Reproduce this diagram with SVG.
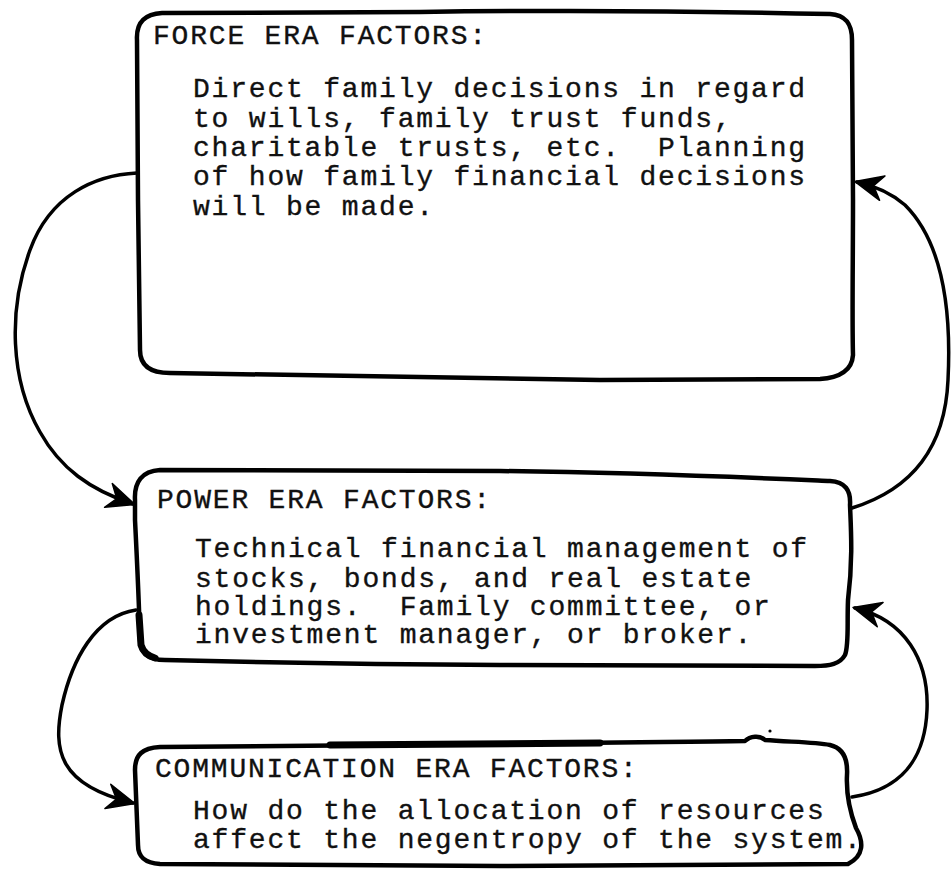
<svg xmlns="http://www.w3.org/2000/svg" width="952" height="869" viewBox="0 0 952 869">
  <style>
    .box { fill: none; stroke: #000; stroke-width: 4.5; stroke-linejoin: round; stroke-linecap: round; }
    .heavy { fill: none; stroke: #000; stroke-width: 7; stroke-linecap: round; }
    .link { fill: none; stroke: #000; stroke-width: 3.5; stroke-linecap: round; marker-end: url(#barb); }
    text { font-family: "Liberation Mono", "Courier New", monospace; font-size: 28px; letter-spacing: 1.8px; fill: #111; stroke: #111; stroke-width: 0.35; }
  </style>
  <defs>
    <marker id="barb" markerUnits="userSpaceOnUse" markerWidth="40" markerHeight="40" viewBox="-30 -20 40 40" refX="0" refY="0" orient="auto">
      <path d="M2,0 L-26,-13 L-17,0 L-26,12 Z" fill="#000" stroke="#000" stroke-width="1.5" stroke-linejoin="round"/>
    </marker>
  </defs>
  <rect width="952" height="869" fill="#fff"/>

  <!-- connectors -->
  <g id="connectors">
    <path class="link" d="M137,173 C95,175 50,195 30,250 C8,310 10,380 40,432 C60,468 90,490 133,504"/>
    <path class="link" d="M136,610 C95,616 72,660 62,705 C53,750 58,785 133,803"/>
    <path class="link" d="M852,508 C910,490 945,450 948,380 C952,300 940,240 905,205 C890,192 875,186 857,182"/>
    <path class="link" d="M852,797 C900,790 925,760 927,710 C929,660 905,620 855,608"/>
  </g>

  <!-- force era -->
  <g id="force-era">
    <path class="box" d="M137,40 C136,22 145,14 162,13 L420,12 C560,10 700,11 830,14 C846,15 852,24 852,40 L853,200 C853,260 852,320 853,355 C852,370 840,378 820,379 L600,380 C450,378 300,376 170,373 C150,373 140,365 140,350 L138,200 Z"/>
    <text x="153" y="44">FORCE ERA FACTORS:</text>
    <text x="193" y="97">Direct family decisions in regard</text>
    <text x="193" y="127">to wills, family trust funds,</text>
    <text x="193" y="156" xml:space="preserve">charitable trusts, etc.  Planning</text>
    <text x="193" y="185">of how family financial decisions</text>
    <text x="193" y="215">will be made.</text>
  </g>

  <!-- power era -->
  <g id="power-era">
    <path class="box" d="M135,500 C134,482 142,471 160,470 L500,471 C650,473 760,478 830,481 C845,482 851,490 850,505 C851,530 853,560 848,600 C847,625 849,645 845,655 C840,664 830,666 815,666 L500,665 C350,664 250,662 165,660 C148,660 140,652 140,640 C139,600 137,560 135,520 Z"/>
    <path class="heavy" d="M139,615 L141,645 C143,652 148,656 155,658"/>
    <text x="157" y="508">POWER ERA FACTORS:</text>
    <text x="195" y="557">Technical financial management of</text>
    <text x="195" y="587">stocks, bonds, and real estate</text>
    <text x="195" y="615" xml:space="preserve">holdings.  Family committee, or</text>
    <text x="195" y="643">investment manager, or broker.</text>
  </g>

  <!-- communication era -->
  <g id="communication-era">
    <path class="box" d="M135,770 C135,755 142,748 160,747 L500,744 C600,742 680,742 745,741 C750,736 760,735 765,740 C790,742 815,742 830,745 C843,748 848,758 847,775 C846,795 850,812 856,828 C864,842 864,856 848,864 L500,866 C350,866 250,865 160,864 C145,863 138,857 138,845 C137,820 136,795 135,770 Z"/>
    <path class="heavy" d="M330,745 L600,743"/>
    <circle cx="770" cy="731" r="1.6" fill="#000"/>
    <text x="155" y="777">COMMUNICATION ERA FACTORS:</text>
    <text x="193" y="819">How do the allocation of resources</text>
    <text x="193" y="848">affect the negentropy of the system.</text>
  </g>
</svg>
